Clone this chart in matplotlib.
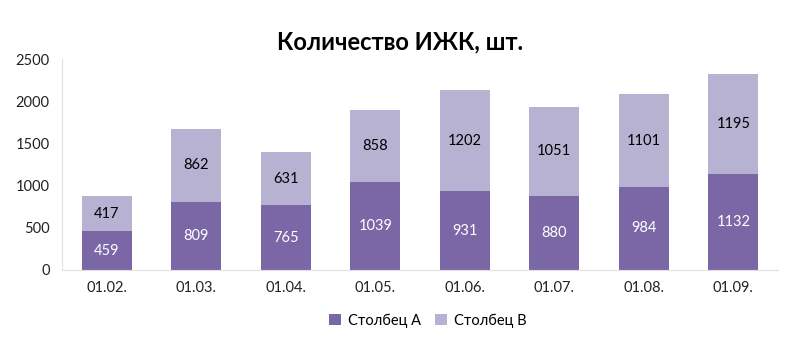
import matplotlib.pyplot as plt
import numpy as np

plt.rcParams["font.family"] = ["Lato", "DejaVu Sans"]

dates = ["01.02.", "01.03.", "01.04.", "01.05.", "01.06.", "01.07.", "01.08.", "01.09."]
col_a = [459, 809, 765, 1039, 931, 880, 984, 1132]
col_b = [417, 862, 631, 858, 1202, 1051, 1101, 1195]

dark = "#7b67a6"
light = "#b8b2d2"

fig = plt.figure(figsize=(8, 3.56), dpi=100)
ax = fig.add_axes([0.0775, 0.2416, 0.895, 0.5924])

x = np.arange(len(dates))
w = 0.56
bars_a = ax.bar(x, col_a, w, color=dark, label="Столбец А")
bars_b = ax.bar(x, col_b, w, bottom=col_a, color=light, label="Столбец В")

ax.bar_label(bars_a, labels=[str(v) for v in col_a], label_type="center",
             color="white", fontsize=10.5)
ax.bar_label(bars_b, labels=[str(v) for v in col_b], label_type="center",
             color="black", fontsize=10.5)

ax.set_xlim(-0.5, len(dates) - 0.5)
ax.set_ylim(0, 2500)
ax.set_yticks(range(0, 2501, 500))
ax.set_xticks(x)
ax.set_xticklabels(dates)
ax.tick_params(axis="both", length=0, labelsize=10.5, colors="#222222")
ax.tick_params(axis="x", pad=8)
ax.tick_params(axis="y", pad=9)

for side in ["top", "right"]:
    ax.spines[side].set_visible(False)
for side in ["left", "bottom"]:
    ax.spines[side].set_color("#e0e0e0")

fig.text(0.5, 0.86, "Количество ИЖК, шт.", ha="center", fontsize=17,
         fontweight="bold")

fig.legend(loc="center", bbox_to_anchor=(0.535, 0.1), ncol=2, frameon=False,
           fontsize=10.5, handlelength=0.8, handleheight=0.8, columnspacing=1.0,
           handletextpad=0.5)

plt.savefig("out.png", dpi=100)
